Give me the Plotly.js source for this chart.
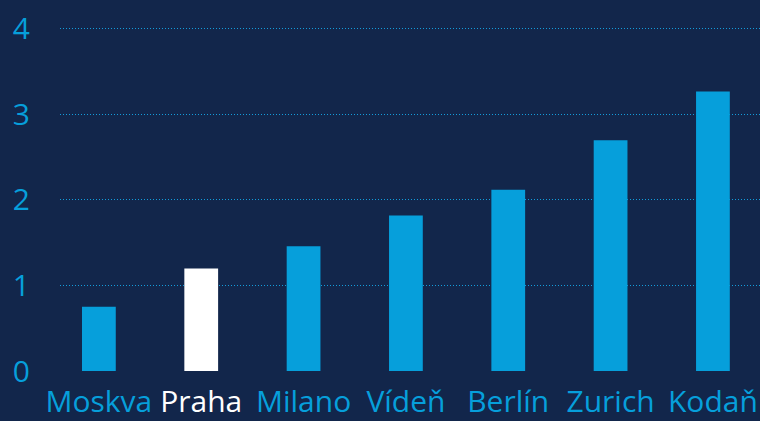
<!DOCTYPE html>
<html><head><meta charset="utf-8">
<script src="https://cdn.plot.ly/plotly-3.0.1.min.js"></script>
<style>html,body{margin:0;padding:0;background:#12264b;}</style>
</head><body>
<div id="chart" style="width:760px;height:421px;"></div>
<script>
var cities = ["Moskva","Praha","Milano","Vídeň","Berlín","Zurich","Kodaň"];
var values = [0.75, 1.20, 1.46, 1.82, 2.12, 2.70, 3.27];
var highlight = "Praha";
var yTicks = [0,1,2,3,4];

var blue = "#069fdb";
var colors = cities.map(function(c){ return c === highlight ? "#ffffff" : blue; });
var tickText = cities.map(function(c){ return c === highlight ? '<span style="color:#ffffff">' + c + '</span>' : c; });

Plotly.newPlot("chart", [{
  type: "bar",
  x: cities.map(function(c,i){return i;}),
  y: values,
  width: 0.33,
  marker: {color: colors},
  hoverinfo: "none"
}], {
  width: 760, height: 421,
  paper_bgcolor: "#12264b",
  plot_bgcolor: "#12264b",
  margin: {l: 60, r: 0, t: 0, b: 50},
  showlegend: false,
  font: {family: "'Open Sans', sans-serif", color: blue, size: 30},
  xaxis: {
    range: [-0.38, 6.46],
    tickmode: "array",
    tickvals: cities.map(function(c,i){return i;}),
    ticktext: tickText,
    showgrid: false, zeroline: false, showline: false,
    ticks: "",
    tickfont: {size: 30, color: blue},
    ticklabelstandoff: 10,
    fixedrange: true
  },
  yaxis: {
    range: [0, 4.339],
    tickmode: "array",
    tickvals: yTicks,
    ticktext: yTicks.map(String),
    showgrid: true,
    gridcolor: "#139ddb",
    griddash: "1px,2px",
    gridwidth: 1,
    zeroline: false, showline: false,
    ticks: "",
    tickfont: {size: 30, color: blue},
    ticklabelstandoff: 29,
    fixedrange: true
  }
}, {displayModeBar: false, staticPlot: true});
</script>
</body></html>
